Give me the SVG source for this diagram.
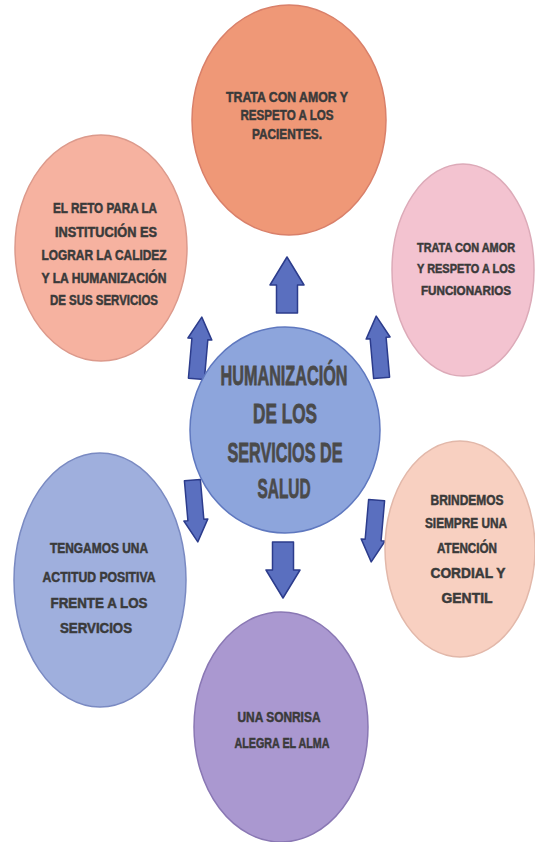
<svg xmlns="http://www.w3.org/2000/svg" width="535" height="842" viewBox="0 0 535 842">
<defs>
<style>
.t{font-family:"Liberation Sans Narrow","Liberation Sans",Arial,sans-serif;font-weight:bold;font-size:14px;fill:#3a3a3a;stroke:#3a3a3a;stroke-width:0.5;text-anchor:middle}
.s{font-size:12.5px}
.c{font-size:27px;fill:#4a4a4a;stroke:#4a4a4a;stroke-width:0.8}
.e{stroke-width:1.5}
.arr{fill:#5a6fbf;stroke:#2c3c8c;stroke-width:1.5;stroke-linejoin:round}
</style>
<path id="big" d="M0,-28 L17,0 L10.5,0 L10.5,28 L-10.5,28 L-10.5,0 L-17,0 Z"/>
<path id="small" d="M0,-32 L12,-10 L8,-10 L8,30 L-8,30 L-8,-10 L-12,-10 Z"/>
</defs>
<rect width="535" height="842" fill="#ffffff"/>
<g id="connectors">
<use href="#big" class="arr" transform="translate(287,285)"/>
<use href="#big" class="arr" transform="translate(283,570) rotate(180)"/>
<use href="#small" class="arr" transform="translate(199,349) rotate(5)"/>
<use href="#small" class="arr" transform="translate(379,348) rotate(-5)"/>
<use href="#small" class="arr" transform="translate(195,510) rotate(175)"/>
<use href="#small" class="arr" transform="translate(374,530) rotate(185)"/>
</g>
<g id="node-top">
<ellipse class="e" cx="289" cy="120" rx="97" ry="115" fill="#ef9877" stroke="#d9806a"/>
<text class="t" x="287" y="102" textLength="122" lengthAdjust="spacingAndGlyphs">TRATA CON AMOR Y</text>
<text class="t" x="287" y="120" textLength="93" lengthAdjust="spacingAndGlyphs">RESPETO A LOS</text>
<text class="t" x="287" y="139" textLength="70" lengthAdjust="spacingAndGlyphs">PACIENTES.</text>
</g>
<g id="node-left-top">
<ellipse class="e" cx="101" cy="248" rx="86" ry="113" fill="#f6b2a0" stroke="#dc9a8c"/>
<text class="t" x="105" y="213" textLength="104" lengthAdjust="spacingAndGlyphs">EL RETO PARA LA</text>
<text class="t" x="106" y="237" textLength="102" lengthAdjust="spacingAndGlyphs">INSTITUCIÓN ES</text>
<text class="t" x="104" y="260" textLength="125" lengthAdjust="spacingAndGlyphs">LOGRAR LA CALIDEZ</text>
<text class="t" x="104" y="283" textLength="125" lengthAdjust="spacingAndGlyphs">Y LA HUMANIZACIÓN</text>
<text class="t" x="104" y="305" textLength="108" lengthAdjust="spacingAndGlyphs">DE SUS SERVICIOS</text>
</g>
<g id="node-right-top">
<ellipse class="e" cx="463" cy="270" rx="71" ry="106" fill="#f3c3d0" stroke="#dcaab8"/>
<text class="t s" x="466" y="252" textLength="98" lengthAdjust="spacingAndGlyphs">TRATA CON AMOR</text>
<text class="t s" x="466" y="273" textLength="98" lengthAdjust="spacingAndGlyphs">Y RESPETO A LOS</text>
<text class="t s" x="466" y="295" textLength="90" lengthAdjust="spacingAndGlyphs">FUNCIONARIOS</text>
</g>
<g id="node-center">
<ellipse class="e" cx="285" cy="430" rx="95" ry="103" fill="#8da5dc" stroke="#5f78bf"/>
<text class="t c" x="284" y="385" textLength="127" lengthAdjust="spacingAndGlyphs">HUMANIZACIÓN</text>
<text class="t c" x="285" y="423" textLength="64" lengthAdjust="spacingAndGlyphs">DE LOS</text>
<text class="t c" x="285" y="462" textLength="115" lengthAdjust="spacingAndGlyphs">SERVICIOS DE</text>
<text class="t c" x="284" y="498" textLength="53" lengthAdjust="spacingAndGlyphs">SALUD</text>
</g>
<g id="node-left-bottom">
<ellipse class="e" cx="100" cy="580" rx="86" ry="127" fill="#9fafdd" stroke="#7a8ac2"/>
<text class="t" x="99" y="553" textLength="98" lengthAdjust="spacingAndGlyphs">TENGAMOS UNA</text>
<text class="t" x="99" y="582" textLength="113" lengthAdjust="spacingAndGlyphs">ACTITUD POSITIVA</text>
<text class="t" x="99" y="608" textLength="97" lengthAdjust="spacingAndGlyphs">FRENTE A LOS</text>
<text class="t" x="96" y="633" textLength="72" lengthAdjust="spacingAndGlyphs">SERVICIOS</text>
</g>
<g id="node-right-bottom">
<ellipse class="e" cx="460" cy="549" rx="75" ry="108" fill="#f8d0c1" stroke="#e2b8aa"/>
<text class="t" x="467" y="505" textLength="73" lengthAdjust="spacingAndGlyphs">BRINDEMOS</text>
<text class="t" x="466" y="528" textLength="82" lengthAdjust="spacingAndGlyphs">SIEMPRE UNA</text>
<text class="t" x="467" y="553" textLength="60" lengthAdjust="spacingAndGlyphs">ATENCIÓN</text>
<text class="t" x="468" y="578" textLength="75" lengthAdjust="spacingAndGlyphs">CORDIAL Y</text>
<text class="t" x="467" y="603" textLength="51" lengthAdjust="spacingAndGlyphs">GENTIL</text>
</g>
<g id="node-bottom">
<ellipse class="e" cx="281" cy="727" rx="87" ry="115" fill="#aa98d0" stroke="#8a78b4"/>
<text class="t" x="279" y="722" textLength="83" lengthAdjust="spacingAndGlyphs">UNA SONRISA</text>
<text class="t" x="282" y="748" textLength="95" lengthAdjust="spacingAndGlyphs">ALEGRA EL ALMA</text>
</g>
</svg>
